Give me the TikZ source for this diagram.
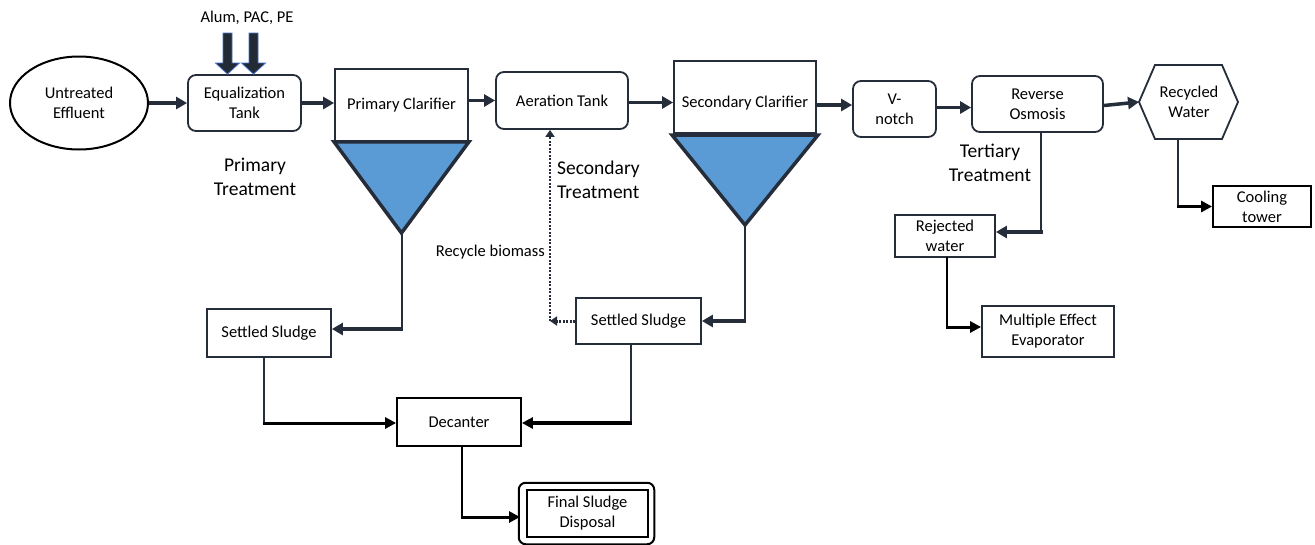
\documentclass[tikz,border=0pt]{standalone}
\usepackage{fontspec}
\setmainfont{Carlito}
\usetikzlibrary{shapes.geometric,arrows.meta,calc}
\definecolor{dk}{RGB}{37,45,59}
\definecolor{tri}{RGB}{91,155,213}
\definecolor{chem}{RGB}{34,42,53}
\definecolor{chemedge}{RGB}{68,114,196}
\newcommand\boxfont{\fontsize{16.5}{20}\selectfont}
\newcommand\lblfont{\fontsize{19.5}{24}\selectfont}
\tikzset{
 box/.style={draw=dk, line width=1.8pt, align=center, inner sep=0pt, font=\boxfont},
 rbox/.style={box, rounded corners=8pt},
 txt/.style={align=center, inner sep=0pt, font=\boxfont},
 lbl/.style={align=center, inner sep=0pt, font=\lblfont},
 flow/.style={draw=dk, line width=3.5pt, -{Triangle[length=11pt,width=12pt]}},
 flowb/.style={draw=black, line width=3pt, -{Triangle[length=11pt,width=11pt]}},
 vline/.style={draw=dk, line width=2pt},
 vlineb/.style={draw=black, line width=2.5pt},
 recyc/.style={draw=dk, line width=2pt, dash pattern=on 2pt off 1.5pt, -{Triangle[length=7pt,width=9pt]}},
 clar/.style={draw=dk, line width=3.5pt, fill=tri, line join=miter},
}
\begin{document}
\begin{tikzpicture}[x=1pt,y=-1pt]
\useasboundingbox (0,0) rectangle (1315,544);

% nodes
\node[draw=black, line width=2pt, ellipse, minimum width=138pt, minimum height=93pt, inner sep=0pt, align=center, font=\boxfont] (ue) at (79,103) {Untreated\\Effluent};
\node[rbox, minimum width=113pt, minimum height=56pt] (eq) at (244.5,103) {Equalization\\Tank};
\node[box, minimum width=133pt, minimum height=72pt] (pc) at (401.5,105) {Primary Clarifier};
\node[rbox, minimum width=132pt, minimum height=57pt] (at) at (562,100.5) {Aeration Tank};
\node[box, minimum width=142pt, minimum height=72pt] (sc) at (745,97) {};
\node[txt] (sct) at (745,103) {Secondary Clarifier};
\node[rbox, minimum width=83pt, minimum height=56pt] (vn) at (894.5,109) {V-\\notch};
\node[rbox, minimum width=131pt, minimum height=56pt] (ro) at (1037.5,104) {Reverse\\Osmosis};

% recycled water hexagon
\coordinate (rwW) at (1139,102);
\coordinate (rwS) at (1178,139);
\draw[draw=dk, line width=1.8pt, line join=miter] (rwW) -- (1155,65) -- (1222,65) -- (1238,102) -- (1222,139) -- (1155,139) -- cycle;
\node[txt] (rw) at (1189,102) {Recycled\\Water};

\node[box, draw=black, minimum width=98pt, minimum height=41pt] (ct) at (1262,206.5) {Cooling\\tower};
\node[box, minimum width=100pt, minimum height=42pt] (rej) at (945,236) {Rejected\\water};
\node[box, minimum width=132pt, minimum height=51pt] (mee) at (1048,331.5) {Multiple Effect\\Evaporator};
\node[box, minimum width=124pt, minimum height=48pt] (ss1) at (269,333) {Settled Sludge};
\node[box, minimum width=125pt, minimum height=46pt] (ss2) at (638.5,321) {Settled Sludge};
\node[box, draw=black, minimum width=124pt, minimum height=48pt] (dec) at (459,422) {Decanter};
\node[box, draw=black, line width=2.5pt, minimum width=121pt, minimum height=47pt] (fsd) at (587.5,513.5) {Final Sludge\\Disposal};
\draw[draw=black, line width=2pt, rounded corners=7pt] ($(fsd.north west)+(-7,-6)$) rectangle ($(fsd.south east)+(5,6)$);

% clarifier cones
\coordinate (pA) at (401.5,233);
\draw[clar] (pc.south west) -- (pc.south east) -- (pA) -- cycle;
\coordinate (sA) at (745,225);
\draw[clar] (672,135) -- (818,135) -- (sA) -- cycle;

% chemical dosing arrows
\foreach \cx/\nm in {227.5/ca,253.5/cb}{
  \draw[fill=chem, draw=chemedge, line width=0.8pt, line join=miter]
    ({\cx-4.5},33) -- ({\cx+4.5},33) -- ({\cx+4.5},63) -- ({\cx+12},63) -- (\cx,74) -- ({\cx-12},63) -- ({\cx-4.5},63) -- cycle;
}
\node[txt] (chemlbl) at (247,18) {Alum, PAC, PE};

% labels
\node[lbl] (l1) at (255,177) {Primary\\Treatment};
\node[lbl, anchor=west, align=left] (l2) at (557,180) {Secondary\\Treatment};
\node[lbl] (l3) at (990,163) {Tertiary\\Treatment};
\node[txt, anchor=east] (rb) at (545,252) {Recycle biomass};

% main flow
\draw[flow] (ue.east) -- (ue.east -| eq.west);
\draw[flow] (eq.east) -- (eq.east -| pc.west);
\draw[flow] (at.west -| pc.east) -- (at.west);
\draw[flow] ([yshift=-2pt]at.east) -- ([yshift=-2pt]at.east -| sc.west);
\draw[flow] ([yshift=4pt]vn.west -| sc.east) -- ([yshift=4pt]vn.west);
\draw[flow] ([yshift=1.5pt]vn.east) -- ([yshift=1.5pt]vn.east -| ro.west);
\draw[flow] ([yshift=-1.5pt]ro.east) -- (rwW);

% recycled water -> cooling tower
\draw[vline] (rwS) -- (rwS |- ct.west);
\draw[flowb] ([xshift=-1pt]rwS |- ct.west) -- (ct.west);

% RO -> rejected water
\coordinate (roS) at (1041,132);
\draw[vline] (roS) -- (roS |- 0,232);
\draw[flow] ([xshift=1.75pt]roS |- 0,232) -- (rej.east |- 0,232);

% rejected -> MEE
\coordinate (rejS) at (947,257);
\draw[vlineb] (rejS) -- (rejS |- 0,327);
\draw[flowb] ([xshift=-1pt]rejS |- 0,327) -- (mee.west |- 0,327);

% primary clarifier -> settled sludge 1
\draw[vline] (pA) -- (pA |- 0,329);
\draw[flow] ([xshift=1pt]pA |- 0,329) -- (ss1.east |- 0,329);

% secondary clarifier -> settled sludge 2
\draw[vline] (sA) -- (sA |- ss2.east);
\draw[flow] ([xshift=1pt]sA |- ss2.east) -- (ss2.east);

% recycle biomass
\coordinate (rc) at (550,321);
\draw[recyc, line width=3pt] (ss2.west) -- (rc);
\draw[recyc] (rc) -- (rc |- at.south);

% settled sludges -> decanter
\coordinate (s1S) at (264,357);
\draw[vline] (s1S) -- (s1S |- 0,423);
\draw[flowb] ([xshift=-1pt]s1S |- 0,423) -- (dec.west |- 0,423);
\coordinate (s2S) at (631,344);
\draw[vline] (s2S) -- (s2S |- 0,423);
\draw[flowb, line width=3.5pt] ([xshift=1pt]s2S |- 0,423) -- (dec.east |- 0,423);

% decanter -> final disposal
\coordinate (dS) at (462,446);
\draw[vlineb] (dS) -- (dS |- 0,517);
\draw[flowb] ([xshift=-1pt]dS |- 0,517) -- (520,517);
\end{tikzpicture}
\end{document}
